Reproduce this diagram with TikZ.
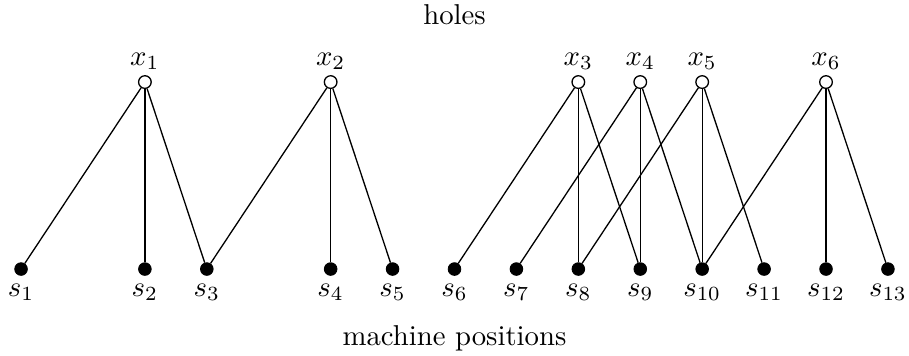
\documentclass[tikz,border=0pt]{standalone}
\begin{document}
\begin{tikzpicture}[
  holenode/.style={circle,draw,fill=white,inner sep=0pt,minimum size=5.8pt,line width=0.6pt},
  posnode/.style={circle,draw,fill=black,inner sep=0pt,minimum size=5.8pt},
  linkline/.style={draw,line width=0.6pt},
  bigtext/.style={scale=1.32}
]
\useasboundingbox (-0.34,-1.39) rectangle (14.34,4.345);
% bottom nodes
\foreach \i/\xx in {1/0,2/2,3/3,4/5,5/6,6/7,7/8,8/9,9/10,10/11,11/12,12/13,13/14}{
  \node[posnode,label={[bigtext,inner sep=2.6pt]below:$s_{\i}$}] (s\i) at (\xx,0) {};
}
% top nodes
\foreach \i/\xx in {1/2,2/5,3/9,4/10,5/11,6/13}{
  \node[holenode,label={[bigtext,inner sep=1.8pt]above:$x_{\i}$}] (x\i) at (\xx,3.02) {};
}
\foreach \a/\b in {1/1,1/2,1/3,2/3,2/4,2/5,3/6,3/8,3/9,4/7,4/9,4/10,5/8,5/10,5/11,6/10,6/12,6/13}{
  \draw[linkline] (x\a) -- (s\b);
}
\node[bigtext] (holes) at (7,4.11) {holes};
\node[bigtext] (mp) at (7,-1.12) {machine positions};
\end{tikzpicture}
\end{document}
